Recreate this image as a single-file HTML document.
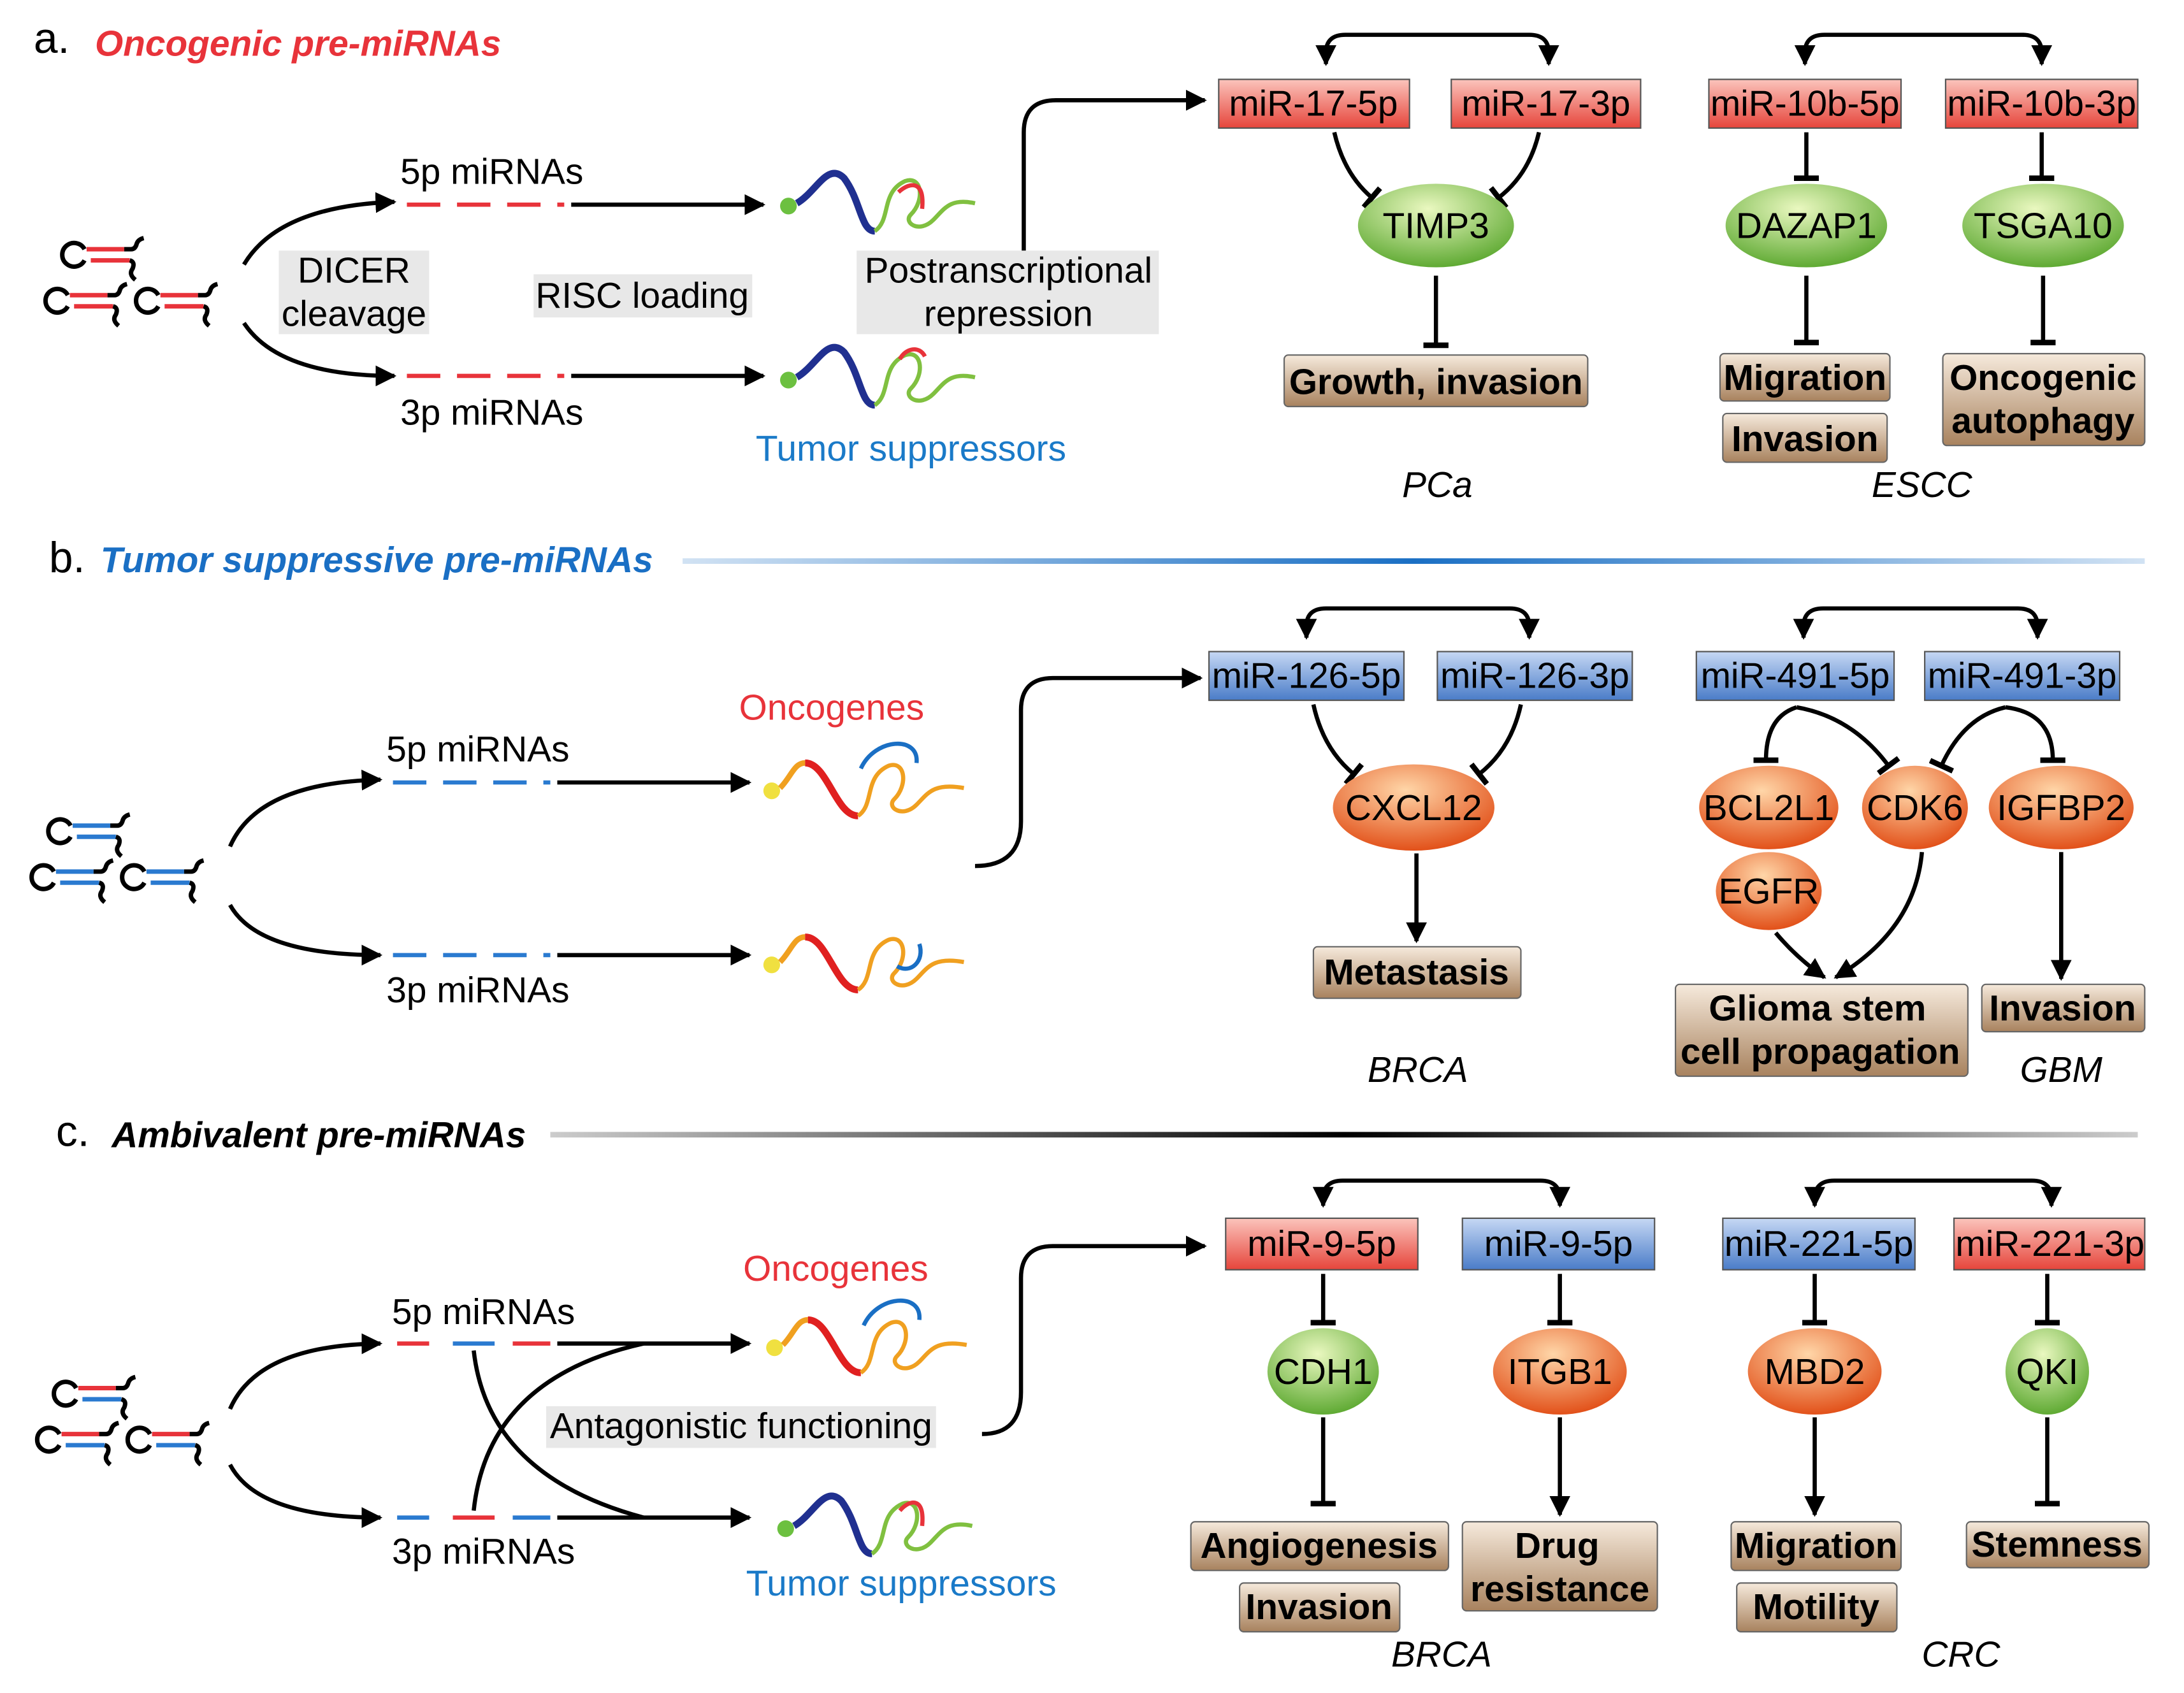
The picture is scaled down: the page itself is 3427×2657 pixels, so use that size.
<!DOCTYPE html>
<html><head><meta charset="utf-8"><style>
html,body{margin:0;padding:0;background:#fff;}
svg{display:block;}
text{font-family:"Liberation Sans",sans-serif;}
</style></head><body>
<svg width="3427" height="2657" viewBox="0 0 1568 1216" xmlns="http://www.w3.org/2000/svg">
<defs>
<linearGradient id="gr" x1="0" y1="0" x2="0" y2="1"><stop offset="0" stop-color="#fbc4bc"/><stop offset="1" stop-color="#e6453b"/></linearGradient>
<linearGradient id="gb" x1="0" y1="0" x2="0" y2="1"><stop offset="0" stop-color="#c6d8f4"/><stop offset="1" stop-color="#4a7cc8"/></linearGradient>
<linearGradient id="gt" x1="0" y1="0" x2="0" y2="1"><stop offset="0" stop-color="#f6eadc"/><stop offset="1" stop-color="#a8825e"/></linearGradient>
<radialGradient id="gg" cx="0.45" cy="0.3" r="0.75"><stop offset="0" stop-color="#eaf8c0"/><stop offset="1" stop-color="#56a52a"/></radialGradient>
<radialGradient id="go" cx="0.45" cy="0.3" r="0.75"><stop offset="0" stop-color="#ffd6a8"/><stop offset="1" stop-color="#e04810"/></radialGradient>
<linearGradient id="lb" x1="0" y1="0" x2="1" y2="0"><stop offset="0" stop-color="#1a6fc4" stop-opacity="0.2"/><stop offset="0.5" stop-color="#1a6fc4"/><stop offset="1" stop-color="#1a6fc4" stop-opacity="0.2"/></linearGradient>
<linearGradient id="lk" x1="0" y1="0" x2="1" y2="0"><stop offset="0" stop-color="#000" stop-opacity="0.2"/><stop offset="0.5" stop-color="#000"/><stop offset="1" stop-color="#000" stop-opacity="0.2"/></linearGradient>
<marker id="ar" viewBox="0 0 10 10" refX="9" refY="5" markerWidth="5" markerHeight="5" orient="auto-start-reverse"><path d="M0,0 L10,5 L0,10 z" fill="#000"/></marker>
<marker id="tb" viewBox="0 0 10 10" refX="5" refY="5" markerWidth="6" markerHeight="6" orient="auto"><path d="M5,0 V10" stroke="#000" stroke-width="2.2"/></marker>
<g id="hpR" fill="none" stroke-width="3.2"><path d="M7.5,-4 A8.5,8.5 0 1 0 7.5,4" stroke="#000"/><path d="M9,-4 H36 M12,4 H40" stroke="#e8333a"/><path d="M36,-4 H41 q3,0 4,-4 q1,-3 5,-4 M40,4 q4,1 2,6 q-3,4 2,8" stroke="#000"/></g>
<g id="hpB" fill="none" stroke-width="3.2"><path d="M7.5,-4 A8.5,8.5 0 1 0 7.5,4" stroke="#000"/><path d="M9,-4 H36 M12,4 H40" stroke="#2a7ad0"/><path d="M36,-4 H41 q3,0 4,-4 q1,-3 5,-4 M40,4 q4,1 2,6 q-3,4 2,8" stroke="#000"/></g>
<g id="hpM" fill="none" stroke-width="3.2"><path d="M7.5,-4 A8.5,8.5 0 1 0 7.5,4" stroke="#000"/><path d="M9,-4 H36" stroke="#e8333a"/><path d="M12,4 H40" stroke="#2a7ad0"/><path d="M36,-4 H41 q3,0 4,-4 q1,-3 5,-4 M40,4 q4,1 2,6 q-3,4 2,8" stroke="#000"/></g>
<g id="mrT"><circle cx="0" cy="20" r="6" fill="#6cc040"/><path d="M6,18 C20,10 28,-12 40,0 C52,16 52,38 62,38" fill="none" stroke="#203090" stroke-width="5"/><path d="M62,38 C74,30 66,10 84,2 C96,-2 98,16 88,26 C82,32 94,40 104,30 C112,22 116,14 134,18" fill="none" stroke="#80c040" stroke-width="3"/></g>
<g id="mrO"><circle cx="0" cy="20" r="6" fill="#f0e040"/><path d="M6,18 C14,10 16,0 24,0" fill="none" stroke="#f0a020" stroke-width="4"/><path d="M24,0 C40,0 46,38 62,38" fill="none" stroke="#e02020" stroke-width="5"/><path d="M62,38 C74,30 66,10 84,2 C96,-2 98,16 88,26 C82,32 94,40 104,30 C112,22 116,14 138,18" fill="none" stroke="#f0a020" stroke-width="3"/></g>
</defs>
<g font-size="26" text-anchor="middle">
<!-- ===== a ===== -->
<text x="24" y="38" font-size="31" text-anchor="start">a.</text>
<text x="68" y="40" font-size="26" font-weight="bold" font-style="italic" fill="#e8333a" text-anchor="start">Oncogenic pre-miRNAs</text>
<use href="#hpR" x="53" y="183"/><use href="#hpR" x="41" y="216"/><use href="#hpR" x="106" y="216"/>
<path d="M175,190 Q200,148 283,145" fill="none" stroke="#000" stroke-width="3" marker-end="url(#ar)"/>
<path d="M175,232 Q200,270 283,270" fill="none" stroke="#000" stroke-width="3" marker-end="url(#ar)"/>
<rect x="200" y="180" width="108" height="60" fill="#e8e8e8"/>
<text x="254" y="203">DICER</text><text x="254" y="234">cleavage</text>
<rect x="383" y="197" width="157" height="31" fill="#e8e8e8"/><text x="461" y="221">RISC loading</text>
<rect x="615" y="180" width="217" height="60" fill="#e8e8e8"/>
<text x="724" y="203">Postranscriptional</text><text x="724" y="234">repression</text>
<text x="353" y="132">5p miRNAs</text><text x="353" y="305">3p miRNAs</text>
<path d="M292,147 H405" stroke="#e8333a" stroke-width="3" stroke-dasharray="24,12"/>
<path d="M410,147 H548" stroke="#000" stroke-width="3" marker-end="url(#ar)"/>
<path d="M292,270 H405" stroke="#e8333a" stroke-width="3" stroke-dasharray="24,12"/>
<path d="M410,270 H548" stroke="#000" stroke-width="3" marker-end="url(#ar)"/>
<use href="#mrT" x="566" y="128"/><path d="M645,138 C654,130 664,130 662,150" fill="none" stroke="#e8333a" stroke-width="3"/>
<use href="#mrT" x="566" y="253"/><path d="M646,258 C650,250 660,248 664,256" fill="none" stroke="#e8333a" stroke-width="3"/>
<text x="654" y="331" fill="#1a7ac8">Tumor suppressors</text>
<path d="M735,180 V95 Q735,72 758,72 H865" fill="none" stroke="#000" stroke-width="3" marker-end="url(#ar)"/>
<rect x="875" y="57" width="137" height="35" fill="url(#gr)" stroke="#555"/><text x="943" y="83">miR-17-5p</text>
<rect x="1042" y="57" width="136" height="35" fill="url(#gr)" stroke="#555"/><text x="1110" y="83">miR-17-3p</text>
<path d="M952,46 V38 Q952,25 966,25 H1098 Q1112,25 1112,38 V46" fill="none" stroke="#000" stroke-width="3" marker-start="url(#ar)" marker-end="url(#ar)"/>
<path d="M958,95 Q965,125 985,142" fill="none" stroke="#000" stroke-width="3" marker-end="url(#tb)"/>
<path d="M1105,95 Q1098,125 1076,142" fill="none" stroke="#000" stroke-width="3" marker-end="url(#tb)"/>
<ellipse cx="1031" cy="162" rx="56" ry="30" fill="url(#gg)"/><text x="1031" y="171">TIMP3</text>
<path d="M1031,198 V248" stroke="#000" stroke-width="3" marker-end="url(#tb)"/>
<rect x="922" y="255" width="218" height="37" rx="3" fill="url(#gt)" stroke="#666"/><text x="1031" y="283" font-weight="bold">Growth, invasion</text>
<text x="1032" y="357" font-style="italic">PCa</text>
<rect x="1227" y="57" width="138" height="35" fill="url(#gr)" stroke="#555"/><text x="1296" y="83">miR-10b-5p</text>
<rect x="1397" y="57" width="138" height="35" fill="url(#gr)" stroke="#555"/><text x="1466" y="83">miR-10b-3p</text>
<path d="M1296,46 V38 Q1296,25 1310,25 H1452 Q1466,25 1466,38 V46" fill="none" stroke="#000" stroke-width="3" marker-start="url(#ar)" marker-end="url(#ar)"/>
<path d="M1297,95 V128" stroke="#000" stroke-width="3" marker-end="url(#tb)"/>
<path d="M1466,95 V128" stroke="#000" stroke-width="3" marker-end="url(#tb)"/>
<ellipse cx="1297" cy="162" rx="58" ry="30" fill="url(#gg)"/><text x="1297" y="171">DAZAP1</text>
<ellipse cx="1467" cy="162" rx="58" ry="30" fill="url(#gg)"/><text x="1467" y="171">TSGA10</text>
<path d="M1297,198 V246" stroke="#000" stroke-width="3" marker-end="url(#tb)"/>
<path d="M1467,198 V246" stroke="#000" stroke-width="3" marker-end="url(#tb)"/>
<rect x="1235" y="254" width="122" height="34" rx="3" fill="url(#gt)" stroke="#666"/><text x="1296" y="280" font-weight="bold">Migration</text>
<rect x="1237" y="297" width="118" height="35" rx="3" fill="url(#gt)" stroke="#666"/><text x="1296" y="324" font-weight="bold">Invasion</text>
<rect x="1395" y="254" width="145" height="66" rx="3" fill="url(#gt)" stroke="#666"/><text x="1467" y="280" font-weight="bold">Oncogenic</text><text x="1467" y="311" font-weight="bold">autophagy</text>
<text x="1380" y="357" font-style="italic">ESCC</text>
<!-- ===== b ===== -->
<rect x="490" y="401" width="1050" height="4" fill="url(#lb)"/>
<text x="35" y="411" font-size="31" text-anchor="start">b.</text>
<text x="72" y="411" font-size="26" font-weight="bold" font-style="italic" fill="#1a6fc4" text-anchor="start">Tumor suppressive pre-miRNAs</text>
<use href="#hpB" x="43" y="597"/><use href="#hpB" x="31" y="630"/><use href="#hpB" x="96" y="630"/>
<path d="M165,608 Q185,562 273,560" fill="none" stroke="#000" stroke-width="3" marker-end="url(#ar)"/>
<path d="M165,650 Q185,686 273,686" fill="none" stroke="#000" stroke-width="3" marker-end="url(#ar)"/>
<text x="343" y="547">5p miRNAs</text><text x="343" y="720">3p miRNAs</text>
<path d="M282,562 H395" stroke="#2a7ad0" stroke-width="3" stroke-dasharray="24,12"/>
<path d="M400,562 H538" stroke="#000" stroke-width="3" marker-end="url(#ar)"/>
<path d="M282,686 H395" stroke="#2a7ad0" stroke-width="3" stroke-dasharray="24,12"/>
<path d="M400,686 H538" stroke="#000" stroke-width="3" marker-end="url(#ar)"/>
<text x="597" y="517" fill="#e8333a">Oncogenes</text>
<use href="#mrO" x="554" y="548"/><path d="M618,552 C628,530 660,528 658,548" fill="none" stroke="#1a6fc4" stroke-width="3"/>
<use href="#mrO" x="554" y="673"/><path d="M644,694 C654,700 664,690 660,678" fill="none" stroke="#1a6fc4" stroke-width="3"/>
<path d="M700,622 Q733,622 733,590 V510 Q733,487 756,487 H862" fill="none" stroke="#000" stroke-width="3" marker-end="url(#ar)"/>
<rect x="868" y="468" width="140" height="35" fill="url(#gb)" stroke="#555"/><text x="938" y="494">miR-126-5p</text>
<rect x="1032" y="468" width="140" height="35" fill="url(#gb)" stroke="#555"/><text x="1102" y="494">miR-126-3p</text>
<path d="M938,458 V450 Q938,437 952,437 H1084 Q1098,437 1098,450 V458" fill="none" stroke="#000" stroke-width="3" marker-start="url(#ar)" marker-end="url(#ar)"/>
<path d="M943,506 Q950,538 972,556" fill="none" stroke="#000" stroke-width="3" marker-end="url(#tb)"/>
<path d="M1092,506 Q1085,538 1062,556" fill="none" stroke="#000" stroke-width="3" marker-end="url(#tb)"/>
<ellipse cx="1015" cy="580" rx="58" ry="31" fill="url(#go)"/><text x="1015" y="589">CXCL12</text>
<path d="M1017,613 V676" stroke="#000" stroke-width="3" marker-end="url(#ar)"/>
<rect x="943" y="680" width="149" height="37" rx="3" fill="url(#gt)" stroke="#666"/><text x="1017" y="707" font-weight="bold">Metastasis</text>
<text x="1018" y="777" font-style="italic">BRCA</text>
<rect x="1218" y="468" width="142" height="35" fill="url(#gb)" stroke="#555"/><text x="1289" y="494">miR-491-5p</text>
<rect x="1382" y="468" width="140" height="35" fill="url(#gb)" stroke="#555"/><text x="1452" y="494">miR-491-3p</text>
<path d="M1295,458 V450 Q1295,437 1309,437 H1449 Q1463,437 1463,450 V458" fill="none" stroke="#000" stroke-width="3" marker-start="url(#ar)" marker-end="url(#ar)"/>
<path d="M1290,508 Q1268,515 1268,546" fill="none" stroke="#000" stroke-width="3" marker-end="url(#tb)"/>
<path d="M1290,508 Q1330,515 1356,550" fill="none" stroke="#000" stroke-width="3" marker-end="url(#tb)"/>
<path d="M1440,508 Q1410,515 1394,550" fill="none" stroke="#000" stroke-width="3" marker-end="url(#tb)"/>
<path d="M1440,508 Q1474,512 1474,546" fill="none" stroke="#000" stroke-width="3" marker-end="url(#tb)"/>
<ellipse cx="1270" cy="580" rx="50" ry="30" fill="url(#go)"/><text x="1270" y="589">BCL2L1</text>
<ellipse cx="1375" cy="580" rx="38" ry="30" fill="url(#go)"/><text x="1375" y="589">CDK6</text>
<ellipse cx="1480" cy="580" rx="52" ry="30" fill="url(#go)"/><text x="1480" y="589">IGFBP2</text>
<ellipse cx="1270" cy="640" rx="38" ry="28" fill="url(#go)"/><text x="1270" y="649">EGFR</text>
<path d="M1275,670 Q1290,688 1310,702" fill="none" stroke="#000" stroke-width="3" marker-end="url(#ar)"/>
<path d="M1380,612 Q1375,668 1318,702" fill="none" stroke="#000" stroke-width="3" marker-end="url(#ar)"/>
<path d="M1480,612 V703" stroke="#000" stroke-width="3" marker-end="url(#ar)"/>
<rect x="1203" y="707" width="210" height="66" rx="3" fill="url(#gt)" stroke="#666"/><text x="1305" y="733" font-weight="bold">Glioma stem</text><text x="1307" y="764" font-weight="bold">cell propagation</text>
<rect x="1423" y="707" width="117" height="34" rx="3" fill="url(#gt)" stroke="#666"/><text x="1481" y="733" font-weight="bold">Invasion</text>
<text x="1480" y="777" font-style="italic">GBM</text>
<!-- ===== c ===== -->
<rect x="395" y="813" width="1140" height="4" fill="url(#lk)"/>
<text x="40" y="823" font-size="31" text-anchor="start">c.</text>
<text x="80" y="824" font-size="26" font-weight="bold" font-style="italic" text-anchor="start">Ambivalent pre-miRNAs</text>
<use href="#hpM" x="47" y="1001"/><use href="#hpM" x="35" y="1034"/><use href="#hpM" x="100" y="1034"/>
<path d="M165,1012 Q185,966 273,965" fill="none" stroke="#000" stroke-width="3" marker-end="url(#ar)"/>
<path d="M165,1052 Q185,1090 273,1090" fill="none" stroke="#000" stroke-width="3" marker-end="url(#ar)"/>
<text x="347" y="951">5p miRNAs</text><text x="347" y="1123">3p miRNAs</text>
<path d="M285,965 H308" stroke="#e8333a" stroke-width="3"/><path d="M325,965 H355" stroke="#2a7ad0" stroke-width="3"/><path d="M368,965 H395" stroke="#e8333a" stroke-width="3"/>
<path d="M285,1090 H308" stroke="#2a7ad0" stroke-width="3"/><path d="M325,1090 H355" stroke="#e8333a" stroke-width="3"/><path d="M368,1090 H395" stroke="#2a7ad0" stroke-width="3"/>
<path d="M400,965 H538" stroke="#000" stroke-width="3" marker-end="url(#ar)"/>
<path d="M400,1090 H538" stroke="#000" stroke-width="3" marker-end="url(#ar)"/>
<path d="M340,970 Q350,1060 462,1090" fill="none" stroke="#000" stroke-width="3"/>
<path d="M340,1085 Q350,990 462,965" fill="none" stroke="#000" stroke-width="3"/>
<rect x="392" y="1010" width="280" height="30" fill="#e8e8e8"/><text x="532" y="1033">Antagonistic functioning</text>
<text x="600" y="920" fill="#e8333a">Oncogenes</text>
<use href="#mrO" x="556" y="948"/><path d="M620,952 C630,930 662,928 660,948" fill="none" stroke="#1a6fc4" stroke-width="3"/>
<use href="#mrT" x="564" y="1078"/><path d="M646,1085 C654,1076 664,1076 662,1096" fill="none" stroke="#e8333a" stroke-width="3"/>
<text x="647" y="1146" fill="#1a7ac8">Tumor suppressors</text>
<path d="M705,1030 Q733,1030 733,1000 V918 Q733,895 756,895 H865" fill="none" stroke="#000" stroke-width="3" marker-end="url(#ar)"/>
<rect x="880" y="875" width="138" height="37" fill="url(#gr)" stroke="#555"/><text x="949" y="902">miR-9-5p</text>
<rect x="1050" y="875" width="138" height="37" fill="url(#gb)" stroke="#555"/><text x="1119" y="902">miR-9-5p</text>
<path d="M950,866 V861 Q950,848 964,848 H1106 Q1120,848 1120,861 V866" fill="none" stroke="#000" stroke-width="3" marker-start="url(#ar)" marker-end="url(#ar)"/>
<path d="M950,915 V950" stroke="#000" stroke-width="3" marker-end="url(#tb)"/>
<path d="M1120,915 V950" stroke="#000" stroke-width="3" marker-end="url(#tb)"/>
<ellipse cx="950" cy="985" rx="40" ry="31" fill="url(#gg)"/><text x="950" y="994">CDH1</text>
<ellipse cx="1120" cy="985" rx="48" ry="31" fill="url(#go)"/><text x="1120" y="994">ITGB1</text>
<path d="M950,1018 V1080" stroke="#000" stroke-width="3" marker-end="url(#tb)"/>
<path d="M1120,1018 V1088" stroke="#000" stroke-width="3" marker-end="url(#ar)"/>
<rect x="855" y="1093" width="185" height="35" rx="3" fill="url(#gt)" stroke="#666"/><text x="947" y="1119" font-weight="bold">Angiogenesis</text>
<rect x="890" y="1137" width="115" height="35" rx="3" fill="url(#gt)" stroke="#666"/><text x="947" y="1163" font-weight="bold">Invasion</text>
<rect x="1050" y="1093" width="140" height="64" rx="3" fill="url(#gt)" stroke="#666"/><text x="1118" y="1119" font-weight="bold">Drug</text><text x="1120" y="1150" font-weight="bold">resistance</text>
<text x="1035" y="1197" font-style="italic">BRCA</text>
<rect x="1237" y="875" width="138" height="37" fill="url(#gb)" stroke="#555"/><text x="1306" y="902">miR-221-5p</text>
<rect x="1403" y="875" width="137" height="37" fill="url(#gr)" stroke="#555"/><text x="1472" y="902">miR-221-3p</text>
<path d="M1303,866 V861 Q1303,848 1317,848 H1459 Q1473,848 1473,861 V866" fill="none" stroke="#000" stroke-width="3" marker-start="url(#ar)" marker-end="url(#ar)"/>
<path d="M1303,915 V950" stroke="#000" stroke-width="3" marker-end="url(#tb)"/>
<path d="M1470,915 V950" stroke="#000" stroke-width="3" marker-end="url(#tb)"/>
<ellipse cx="1303" cy="985" rx="48" ry="31" fill="url(#go)"/><text x="1303" y="994">MBD2</text>
<ellipse cx="1470" cy="985" rx="30" ry="31" fill="url(#gg)"/><text x="1470" y="994">QKI</text>
<path d="M1303,1018 V1088" stroke="#000" stroke-width="3" marker-end="url(#ar)"/>
<path d="M1470,1018 V1080" stroke="#000" stroke-width="3" marker-end="url(#tb)"/>
<rect x="1243" y="1093" width="122" height="35" rx="3" fill="url(#gt)" stroke="#666"/><text x="1304" y="1119" font-weight="bold">Migration</text>
<rect x="1247" y="1137" width="115" height="35" rx="3" fill="url(#gt)" stroke="#666"/><text x="1304" y="1163" font-weight="bold">Motility</text>
<rect x="1412" y="1093" width="131" height="33" rx="3" fill="url(#gt)" stroke="#666"/><text x="1477" y="1118" font-weight="bold">Stemness</text>
<text x="1408" y="1197" font-style="italic">CRC</text>
</g>
</svg>
</body></html>
